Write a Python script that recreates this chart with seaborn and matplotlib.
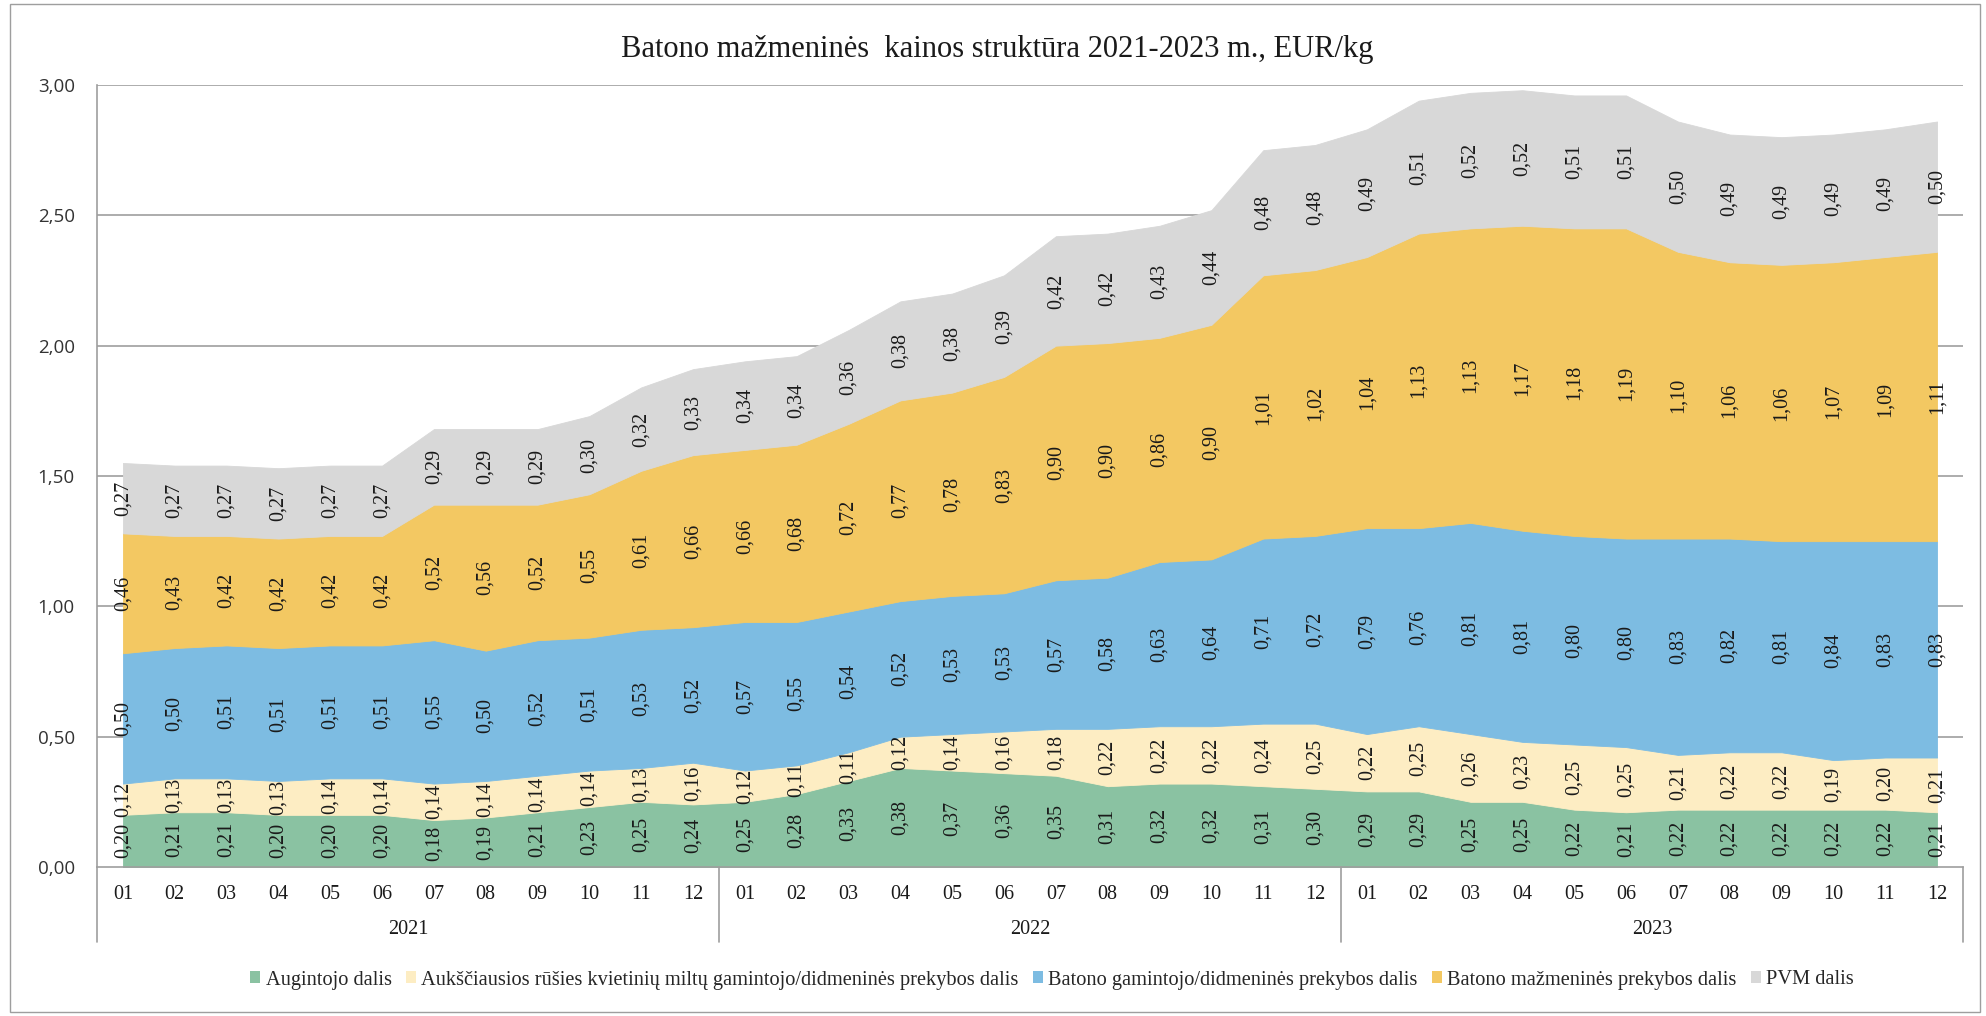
import numpy as np
import matplotlib
matplotlib.use("Agg")
import matplotlib.pyplot as plt
import matplotlib.transforms as mtransforms
from matplotlib.patches import Patch, Rectangle
import seaborn as sns

# ---------------- data ----------------
years = ["2021", "2022", "2023"]
months = ["01", "02", "03", "04", "05", "06", "07", "08", "09", "10", "11", "12"]

augintojo = [0.20, 0.21, 0.21, 0.20, 0.20, 0.20, 0.18, 0.19, 0.21, 0.23, 0.25, 0.24,
             0.25, 0.28, 0.33, 0.38, 0.37, 0.36, 0.35, 0.31, 0.32, 0.32, 0.31, 0.30,
             0.29, 0.29, 0.25, 0.25, 0.22, 0.21, 0.22, 0.22, 0.22, 0.22, 0.22, 0.21]
miltu = [0.12, 0.13, 0.13, 0.13, 0.14, 0.14, 0.14, 0.14, 0.14, 0.14, 0.13, 0.16,
         0.12, 0.11, 0.11, 0.12, 0.14, 0.16, 0.18, 0.22, 0.22, 0.22, 0.24, 0.25,
         0.22, 0.25, 0.26, 0.23, 0.25, 0.25, 0.21, 0.22, 0.22, 0.19, 0.20, 0.21]
gamintojo = [0.50, 0.50, 0.51, 0.51, 0.51, 0.51, 0.55, 0.50, 0.52, 0.51, 0.53, 0.52,
             0.57, 0.55, 0.54, 0.52, 0.53, 0.53, 0.57, 0.58, 0.63, 0.64, 0.71, 0.72,
             0.79, 0.76, 0.81, 0.81, 0.80, 0.80, 0.83, 0.82, 0.81, 0.84, 0.83, 0.83]
mazmenines = [0.46, 0.43, 0.42, 0.42, 0.42, 0.42, 0.52, 0.56, 0.52, 0.55, 0.61, 0.66,
              0.66, 0.68, 0.72, 0.77, 0.78, 0.83, 0.90, 0.90, 0.86, 0.90, 1.01, 1.02,
              1.04, 1.13, 1.13, 1.17, 1.18, 1.19, 1.10, 1.06, 1.06, 1.07, 1.09, 1.11]
pvm = [0.27, 0.27, 0.27, 0.27, 0.27, 0.27, 0.29, 0.29, 0.29, 0.30, 0.32, 0.33,
       0.34, 0.34, 0.36, 0.38, 0.38, 0.39, 0.42, 0.42, 0.43, 0.44, 0.48, 0.48,
       0.49, 0.51, 0.52, 0.52, 0.51, 0.51, 0.50, 0.49, 0.49, 0.49, 0.49, 0.50]

series_names = [
    "Augintojo dalis",
    "Aukščiausios rūšies kvietinių miltų gamintojo/didmeninės prekybos dalis",
    "Batono gamintojo/didmeninės prekybos dalis",
    "Batono mažmeninės prekybos dalis",
    "PVM dalis",
]
title = "Batono mažmeninės  kainos struktūra 2021-2023 m., EUR/kg"
y_ticks = [0.0, 0.5, 1.0, 1.5, 2.0, 2.5, 3.0]

# ---------------- style ----------------
sns.set_theme(style="white")
plt.rcParams['font.family'] = ['Liberation Serif', 'DejaVu Serif']
palette = sns.color_palette(["#8AC2A2", "#FDEDC3", "#7DBCE2", "#F3C862", "#D8D8D8"])
grid_col = "#9E9E9E"

W, H = 1986, 1016
fig = plt.figure(figsize=(W / 100, H / 100), dpi=100)
ax_l, ax_r, ax_t, ax_b = 97, 1963, 85, 867
ax = fig.add_axes([ax_l / W, 1 - ax_b / H, (ax_r - ax_l) / W, (ax_b - ax_t) / H])

data = [augintojo, miltu, gamintojo, mazmenines, pvm]
n = len(augintojo)
x = np.arange(n)

polys = ax.stackplot(x, *data, colors=palette, zorder=2)
for p in polys:
    p.set_edgecolor(p.get_facecolor())
    p.set_linewidth(0.6)

for yv in y_ticks[1:]:
    ax.axhline(yv, color=grid_col, lw=1.2, zorder=1)

# data labels
cum = np.zeros(n)
for vals in data:
    v = np.array(vals)
    for i in range(n):
        ax.text(i, cum[i] + v[i] / 2, f"{v[i]:.2f}".replace(".", ","),
                rotation=90, ha="center", va="center", fontsize=14.5,
                color="#1a1a1a", zorder=5)
    cum += v

ax.set_xlim(-0.5, n - 0.5)
ax.set_ylim(0, 3.0)
ax.set_xticks(x)
ax.set_xticklabels(months * len(years), fontsize=14.5)
ax.set_yticks(y_ticks)
ax.set_yticklabels([f"{t:.2f}".replace(".", ",") for t in y_ticks],
                   fontsize=13.5, family=["Open Sans", "DejaVu Sans"])
ax.tick_params(axis="x", length=0, pad=13, colors="#1a1a1a")
ax.tick_params(axis="y", length=0, pad=16, colors="#333333")
for s in ["top", "right"]:
    ax.spines[s].set_visible(False)
for s in ["left", "bottom"]:
    ax.spines[s].set_color(grid_col)
    ax.spines[s].set_linewidth(1.2)
ax.grid(False)
ax.set_facecolor("white")

# multi-level category axis
trans = mtransforms.blended_transform_factory(ax.transData, ax.transAxes)
ah = ax_b - ax_t
sep_bottom = -(942 - ax_b) / ah
for xv in [-0.5, 11.5, 23.5, 35.5]:
    ax.plot([xv, xv], [0, sep_bottom], transform=trans, color=grid_col,
            lw=1.2, clip_on=False)
for k, yr in enumerate(years):
    ax.text(k * 12 + 5.5, -(929 - ax_b) / ah, yr, transform=trans,
            ha="center", va="center", fontsize=14.5, color="#1a1a1a")

# title
fig.text(997 / W, 1 - 49 / H, title, ha="center", va="center", fontsize=22,
         color="#1a1a1a")

# legend
handles = [Patch(facecolor=c, edgecolor="none") for c in palette]
fig.legend(handles, series_names, loc="center", bbox_to_anchor=(1052 / W, 1 - 980 / H),
           ncol=5, frameon=False, fontsize=14.7, handlelength=0.5, handleheight=0.5,
           handletextpad=0.25, columnspacing=0.7)

# outer chart border
fig.patches.append(Rectangle((10 / W, 4 / H), (1980 - 10) / W, (1012 - 4) / H,
                             transform=fig.transFigure, fill=False,
                             edgecolor=grid_col, lw=1))

fig.savefig("out.png", dpi=100, facecolor="white")
